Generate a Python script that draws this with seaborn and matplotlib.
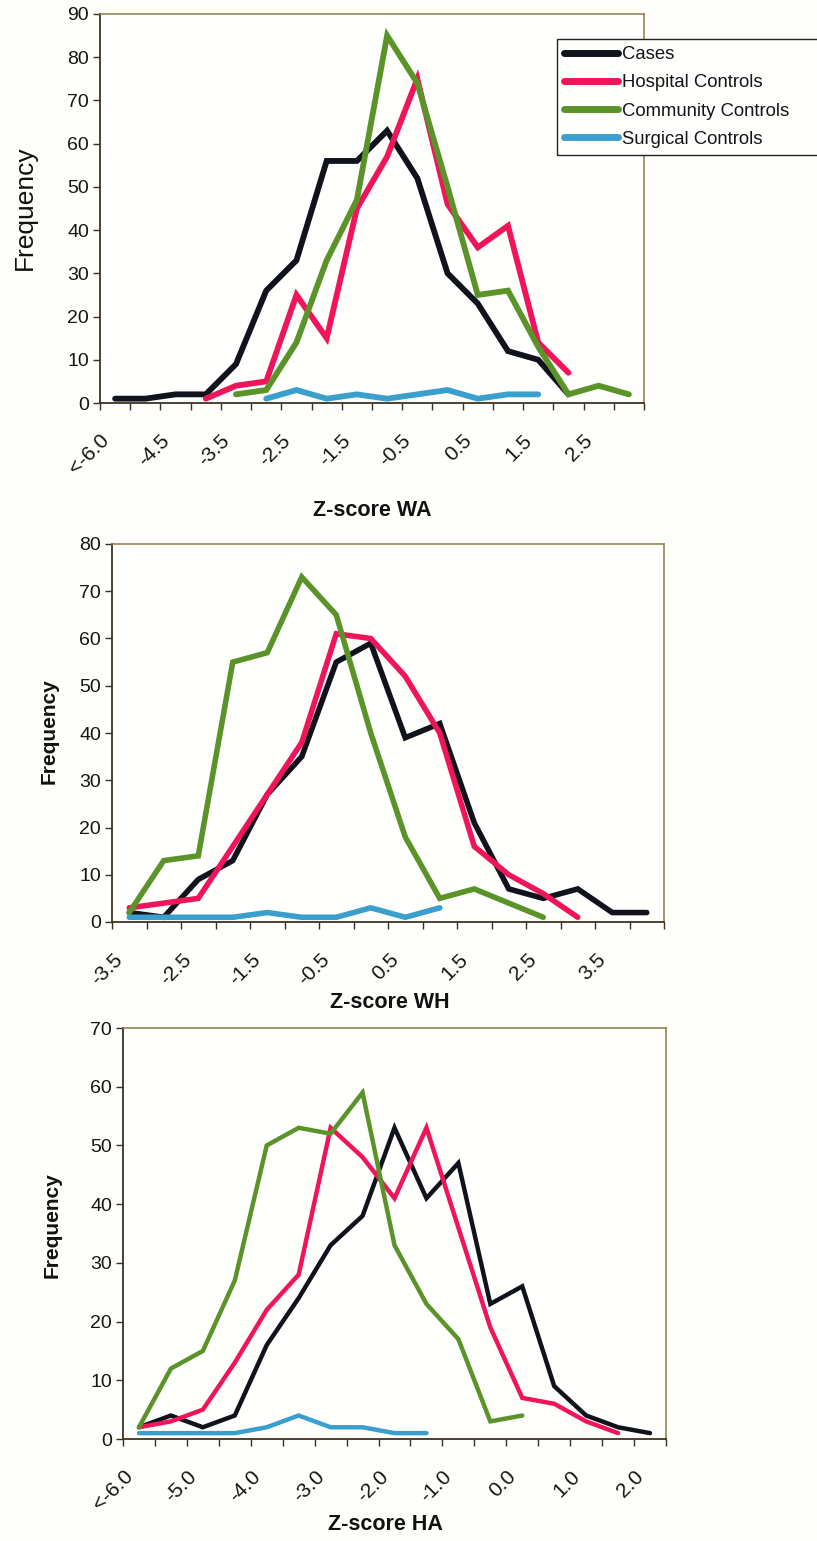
import numpy as np
import pandas as pd
import matplotlib
matplotlib.use("Agg")
import matplotlib.pyplot as plt
import matplotlib.transforms as mtransforms
import seaborn as sns

nan = np.nan

series_names = ["Cases", "Hospital Controls", "Community Controls", "Surgical Controls"]
series_colors = ["#10121c", "#f0145a", "#5a9428", "#3a9fcc"]

# ---- Panel 1: Z-score WA ----
wa_categories = ["<-6.0", "-5.0", "-4.5", "-4.0", "-3.5", "-3.0", "-2.5", "-2.0", "-1.5",
                 "-1.0", "-0.5", "0.0", "0.5", "1.0", "1.5", "2.0", "2.5", "3.0"]
wa_cases     = [1, 1, 2, 2, 9, 26, 33, 56, 56, 63, 52, 30, 23, 12, 10, 2, nan, nan]
wa_hospital  = [nan, nan, nan, 1, 4, 5, 25, 15, 45, 57, 75, 46, 36, 41, 14, 7, nan, nan]
wa_community = [nan, nan, nan, nan, 2, 3, 14, 33, 47, 85, 74, 50, 25, 26, 13, 2, 4, 2]
wa_surgical  = [nan, nan, nan, nan, nan, 1, 3, 1, 2, 1, 2, 3, 1, 2, 2, nan, nan, nan]

# ---- Panel 2: Z-score WH ----
wh_categories = ["-3.5", "-3.0", "-2.5", "-2.0", "-1.5", "-1.0", "-0.5", "0.0",
                 "0.5", "1.0", "1.5", "2.0", "2.5", "3.0", "3.5", "4.0"]
wh_cases     = [2, 1, 9, 13, 27, 35, 55, 59, 39, 42, 21, 7, 5, 7, 2, 2]
wh_hospital  = [3, 4, 5, 16, 27, 38, 61, 60, 52, 40, 16, 10, 6, 1, nan, nan]
wh_community = [2, 13, 14, 55, 57, 73, 65, 40, 18, 5, 7, 4, 1, nan, nan, nan]
wh_surgical  = [1, 1, 1, 1, 2, 1, 1, 3, 1, 3, nan, nan, nan, nan, nan, nan]

# ---- Panel 3: Z-score HA ----
ha_categories = ["<-6.0", "-5.5", "-5.0", "-4.5", "-4.0", "-3.5", "-3.0", "-2.5", "-2.0",
                 "-1.5", "-1.0", "-0.5", "0.0", "0.5", "1.0", "1.5", "2.0"]
ha_cases     = [2, 4, 2, 4, 16, 24, 33, 38, 53, 41, 47, 23, 26, 9, 4, 2, 1]
ha_hospital  = [2, 3, 5, 13, 22, 28, 53, 48, 41, 53, 36, 19, 7, 6, 3, 1, nan]
ha_community = [2, 12, 15, 27, 50, 53, 52, 59, 33, 23, 17, 3, 4, nan, nan, nan, nan]
ha_surgical  = [1, 1, 1, 1, 2, 4, 2, 2, 1, 1, nan, nan, nan, nan, nan, nan, nan]

panels = [
    dict(cats=wa_categories, data=[wa_cases, wa_hospital, wa_community, wa_surgical],
         xlabel="Z-score WA", ymax=90),
    dict(cats=wh_categories, data=[wh_cases, wh_hospital, wh_community, wh_surgical],
         xlabel="Z-score WH", ymax=80),
    dict(cats=ha_categories, data=[ha_cases, ha_hospital, ha_community, ha_surgical],
         xlabel="Z-score HA", ymax=70),
]

sns.set_theme(style="white")
plt.rcParams["font.family"] = ["Liberation Sans", "DejaVu Sans"]

W, H = 817, 1541
fig = plt.figure(figsize=(W / 100, H / 100), dpi=100)
fig.patch.set_facecolor("#fefefb")

# axes boxes in pixels: left, right, top, bottom
boxes = [(100, 644, 14, 403), (112, 664, 544, 922), (123, 666, 1028, 1439)]
linewidths = [4.2, 4.0, 3.2]
ylabel_pos = [(25, 208), (49, 731), (52, 1225)]
xlabel_pos = [(372, 510), (390, 1002), (385, 1524)]

def to_long(cats, data):
    rows = []
    for name, vals in zip(series_names, data):
        for i, v in enumerate(vals):
            if not np.isnan(v):
                rows.append({"pos": i, "Frequency": v, "group": name})
    return pd.DataFrame(rows)

palette = dict(zip(series_names, series_colors))

for k, (p, (l, r, t, b)) in enumerate(zip(panels, boxes)):
    ax = fig.add_axes([l / W, 1 - b / H, (r - l) / W, (b - t) / H])
    ax.set_facecolor("#fffffd")
    df = to_long(p["cats"], p["data"])
    sns.lineplot(data=df, x="pos", y="Frequency", hue="group", hue_order=series_names,
                 palette=palette, linewidth=linewidths[k], sort=False, legend=False,
                 ax=ax, solid_capstyle="round", solid_joinstyle="miter")
    n = len(p["cats"])
    ax.set_xlim(-0.5, n - 0.5)
    ax.set_ylim(0, p["ymax"])
    ax.set_yticks(np.arange(0, p["ymax"] + 1, 10))
    ax.set_xticks(np.arange(0, n, 2))
    ax.set_xticklabels(p["cats"][::2], rotation=45, ha="right", va="top",
                       rotation_mode="anchor", fontsize=15, color="#151515")
    ax.set_xticks(np.arange(-0.5, n, 1), minor=True)
    ax.tick_params(axis="x", which="major", length=0, pad=20)
    ax.tick_params(axis="x", which="minor", length=5, width=1, color="#3a3020",
                   direction="out", bottom=True)
    ax.tick_params(axis="y", which="major", length=5, width=1, color="#3a3020",
                   direction="out", left=True, labelsize=14, pad=3, labelcolor="#151515")
    offset = mtransforms.ScaledTranslation(-0.16, 0, fig.dpi_scale_trans)
    for lab in ax.get_xticklabels():
        lab.set_transform(lab.get_transform() + offset)
    for side in ["left", "bottom"]:
        ax.spines[side].set_color("#3e3222")
        ax.spines[side].set_linewidth(1.3)
    for side in ["top", "right"]:
        ax.spines[side].set_color("#8a7a44")
        ax.spines[side].set_linewidth(1.1)
    ax.set_xlabel("")
    ax.set_ylabel("")
    ax.grid(False)

    xl, yl = xlabel_pos[k]
    fig.text(xl / W, 1 - yl / H, p["xlabel"], ha="center", va="center",
             fontsize=15.5, fontweight="bold", color="#111111")
    yx, yy = ylabel_pos[k]
    if k == 0:
        fig.text(yx / W, 1 - yy / H, "Frequency", ha="center", va="center",
                 rotation=90, fontsize=19, color="#111111")
    else:
        fig.text(yx / W, 1 - yy / H, "Frequency", ha="center", va="center",
                 rotation=90, fontsize=15, fontweight="bold", color="#111111")

    if k == 0:
        handles = [plt.Line2D([], [], color=c, linewidth=5, solid_capstyle="round")
                   for c in series_colors]
        leg = fig.legend(handles, series_names, loc="upper left",
                         bbox_to_anchor=(557 / W, 1 - 39 / H, 270 / W, 0.0),
                         mode="expand", frameon=True,
                         fancybox=False, edgecolor="#222222", facecolor="#fffffd",
                         framealpha=1, fontsize=13.3, handlelength=2.9,
                         handletextpad=0.2, labelspacing=0.6, borderpad=0.4,
                         borderaxespad=0)
        leg.get_frame().set_linewidth(1.0)
        for txt in leg.get_texts():
            txt.set_color("#151515")

fig.savefig("out.png", dpi=100, facecolor=fig.get_facecolor())
